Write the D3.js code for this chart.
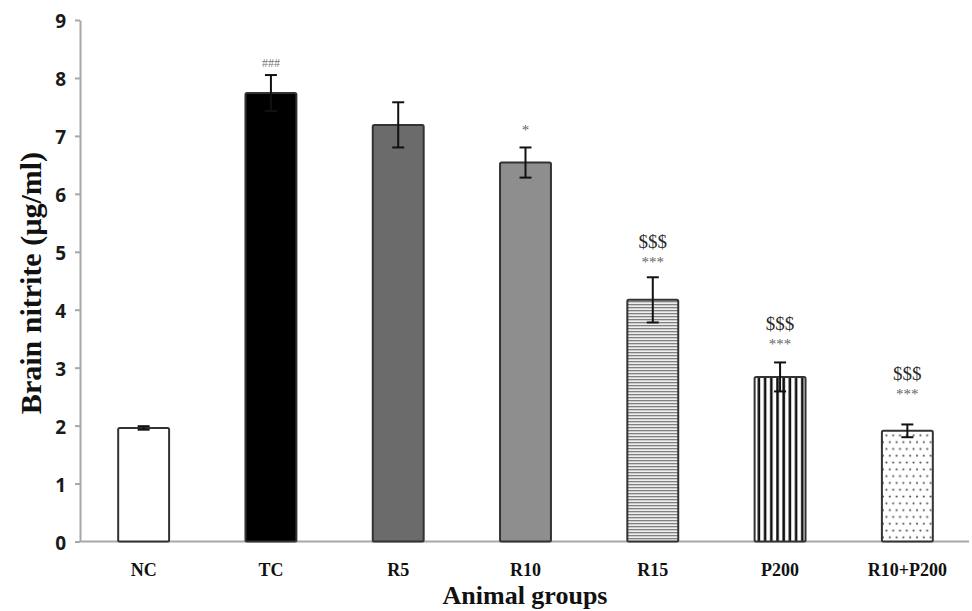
<!DOCTYPE html>
<html>
<head>
<meta charset="utf-8">
<script src="https://cdn.jsdelivr.net/npm/d3@7"></script>
<style>
  html, body { margin: 0; padding: 0; background: #fff; }
  svg { display: block; }
</style>
</head>
<body>
<svg id="chart" width="972" height="611"></svg>
<script>
// Brain nitrite per animal group (mean ± SEM)
const groups = ["NC", "TC", "R5", "R10", "R15", "P200", "R10+P200"];
const means  = [1.96, 7.74, 7.19, 6.54, 4.17, 2.84, 1.91];
const errors = [0.03, 0.31, 0.39, 0.26, 0.39, 0.25, 0.11];
// significance marks: upper line / lower line
const sigUpper = ["", "", "", "", "$$$", "$$$", "$$$"];
const sigLower = ["", "###", "", "*", "***", "***", "***"];
const yTicks = [0, 1, 2, 3, 4, 5, 6, 7, 8, 9];

const svg = d3.select("#chart");
const plotLeft = 80, plotRight = 971, plotTop = 20, plotBottom = 541.5;

const x = d3.scaleBand().domain(groups).range([plotLeft, plotRight])
  .paddingInner(0.6).paddingOuter(0.3);
const y = d3.scaleLinear().domain([0, 9]).range([plotBottom, plotTop]);

// fill patterns
const defs = svg.append("defs");
const hLines = defs.append("pattern").attr("id", "hlines")
  .attr("patternUnits", "userSpaceOnUse").attr("width", 6).attr("height", 3);
hLines.append("rect").attr("width", 6).attr("height", 3).attr("fill", "#eeeeee");
hLines.append("rect").attr("y", 1).attr("width", 6).attr("height", 1.3).attr("fill", "#808080");

const vLines = defs.append("pattern").attr("id", "vlines")
  .attr("patternUnits", "userSpaceOnUse").attr("width", 6.2).attr("height", 6)
  .attr("x", x("P200") + 1);
vLines.append("rect").attr("width", 6.2).attr("height", 6).attr("fill", "#fff");
vLines.append("rect").attr("x", 2).attr("width", 2.6).attr("height", 6).attr("fill", "#111");

const dots = defs.append("pattern").attr("id", "dots")
  .attr("patternUnits", "userSpaceOnUse").attr("width", 13.6).attr("height", 13.6)
  .attr("x", x("R10+P200") + 3).attr("y", y(means[6]) + 3);
dots.append("rect").attr("width", 13.6).attr("height", 13.6).attr("fill", "#fff");
[[1.5, 1.5], [8.3, 1.5], [4.9, 8.3], [11.7, 8.3]].forEach(([cx, cy]) =>
  dots.append("circle").attr("cx", cx).attr("cy", cy).attr("r", 1.05).attr("fill", "#555"));

const fills = ["#ffffff", "#000000", "#6b6b6b", "#8e8e8e", "url(#hlines)", "url(#vlines)", "url(#dots)"];

// y axis
const yAxis = svg.append("g").attr("transform", `translate(${plotLeft},0)`)
  .call(d3.axisLeft(y).tickValues(yTicks).tickSize(5).tickSizeOuter(0).tickPadding(9));
yAxis.select(".domain").attr("stroke", "#a8a8a8").attr("stroke-width", 2);
yAxis.selectAll(".tick line").attr("stroke", "#a8a8a8").attr("stroke-width", 2);
yAxis.selectAll(".tick text")
  .attr("font-family", "'Open Sans', 'DejaVu Sans', sans-serif")
  .attr("font-weight", "bold").attr("font-size", 19).attr("fill", "#1a1a1a")
  .attr("dy", "0.4em");

// x baseline
svg.append("line").attr("x1", plotLeft).attr("x2", 969)
  .attr("y1", plotBottom).attr("y2", plotBottom)
  .attr("stroke", "#a8a8a8").attr("stroke-width", 2);

// bars
svg.append("g").selectAll("rect").data(groups).join("rect")
  .attr("x", d => x(d))
  .attr("y", (d, i) => y(means[i]))
  .attr("width", x.bandwidth())
  .attr("height", (d, i) => plotBottom - y(means[i]))
  .attr("fill", (d, i) => fills[i])
  .attr("stroke", "#333").attr("stroke-width", 2)
  .attr("rx", 1.5);

// error bars
const eb = svg.append("g").attr("stroke", "#111").attr("stroke-width", 2);
groups.forEach((g, i) => {
  const cx = x(g) + x.bandwidth() / 2;
  const yT = y(means[i] + errors[i]), yB = y(means[i] - errors[i]);
  eb.append("line").attr("x1", cx).attr("x2", cx).attr("y1", yT).attr("y2", yB);
  eb.append("line").attr("x1", cx - 6).attr("x2", cx + 6).attr("y1", yT).attr("y2", yT);
  eb.append("line").attr("x1", cx - 6).attr("x2", cx + 6).attr("y1", yB).attr("y2", yB);
});

// significance marks (short bars get a little extra clearance)
const serif = "'Liberation Serif', 'DejaVu Serif', serif";
const markLift = { "R10+P200": 15, "P200": 3 };
groups.forEach((g, i) => {
  const cx = x(g) + x.bandwidth() / 2;
  const yT = y(means[i] + errors[i]) - (markLift[g] || 0);
  if (sigLower[i]) {
    const s = sigLower[i];
    const isHash = s === "###";
    svg.append("text").attr("x", cx)
      .attr("y", yT - (isHash ? 8 : (s === "*" ? 12 : 10)))
      .attr("text-anchor", "middle").attr("font-family", serif)
      .attr("font-size", isHash ? 12 : 15)
      .attr("fill", isHash ? "#777" : "#666")
      .text(s);
  }
  if (sigUpper[i]) {
    svg.append("text").attr("x", cx).attr("y", yT - 29)
      .attr("text-anchor", "middle").attr("font-family", serif)
      .attr("font-size", 19).attr("fill", "#2a2a2a")
      .text(sigUpper[i]);
  }
});

// category labels
svg.append("g").selectAll("text").data(groups).join("text")
  .attr("x", d => x(d) + x.bandwidth() / 2)
  .attr("y", 576)
  .attr("text-anchor", "middle")
  .attr("font-family", serif).attr("font-weight", "bold")
  .attr("font-size", 18).attr("fill", "#111")
  .text(d => d);

// axis titles
svg.append("text").attr("x", 525).attr("y", 604)
  .attr("text-anchor", "middle").attr("font-family", serif)
  .attr("font-weight", "bold").attr("font-size", 26).attr("fill", "#111")
  .text("Animal groups");

svg.append("text")
  .attr("transform", "translate(41,283) rotate(-90)")
  .attr("text-anchor", "middle").attr("font-family", serif)
  .attr("font-weight", "bold").attr("font-size", 30).attr("fill", "#111")
  .text("Brain nitrite (µg/ml)");
</script>
</body>
</html>
